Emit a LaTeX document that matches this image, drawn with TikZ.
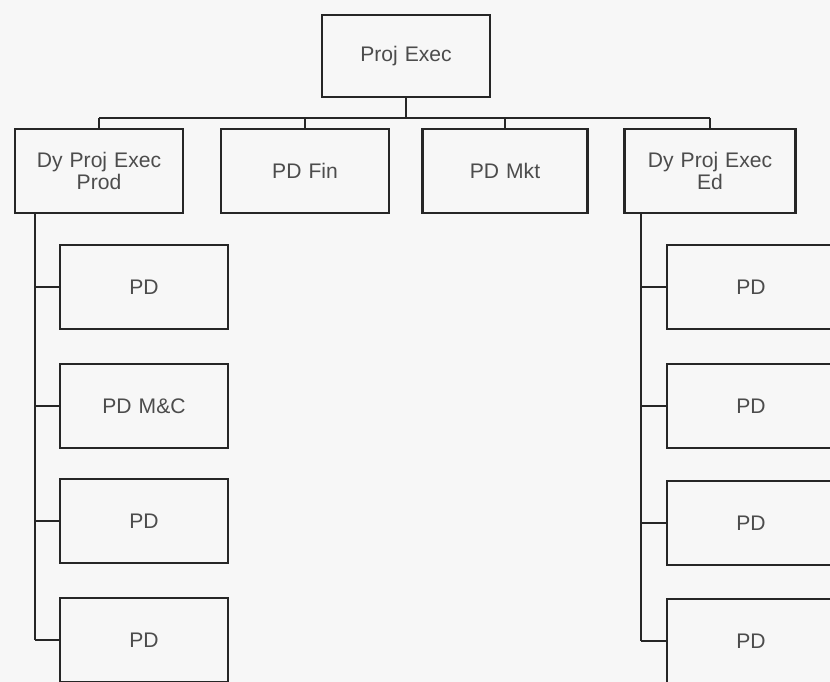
\documentclass[tikz,border=0pt]{standalone}
\usepackage{fontspec}
\setmainfont{Liberation Sans}
\usetikzlibrary{positioning,calc}

\begin{document}
\begin{tikzpicture}[x=0.025cm, y=-0.025cm,
    post/.style={rectangle, draw=black!85, line width=2pt, fill=white!97!black,
    text centered, text width=3.6cm, minimum width=4.2cm, minimum height=2.1cm,
    font=\fontsize{15}{16}\selectfont, text=black!70},
    link/.style={draw=black!85, line width=2pt}]
    \useasboundingbox[fill=white!97!black] (0,0) rectangle (830,682);

    \node (exec) [post, minimum height=2.05cm] at (406,56) {Proj Exec};

    \node (dyprod) [post] at (99,171) {Dy Proj Exec\\Prod};
    \node (pdfin) [post] at (305,171) {PD Fin};
    \node (pdmkt) [post, minimum width=4.125cm] at (505,171) {PD Mkt};
    \node (dyed) [post, minimum width=4.275cm] at (710,171) {Dy Proj Exec\\Ed};

    \node (pda) [post] at (144,287) {PD};
    \node (pdb) [post] at (144,406) {PD M\&C};
    \node (pdc) [post] at (144,521) {PD};
    \node (pdd) [post] at (144,640) {PD};

    \node (pde) [post] at (751,287) {PD};
    \node (pdf) [post] at (751,406) {PD};
    \node (pdg) [post] at (751,523) {PD};
    \node (pdh) [post] at (751,641) {PD};

    \coordinate (bus) at (0,118);
    \coordinate (spineL) at (35,0);
    \coordinate (spineR) at (641,0);

    % top level
    \draw [link] (exec.south) -- (exec.south |- bus);
    \draw [link] (dyprod.north |- bus) -- (dyed.north |- bus);
    \foreach \n in {dyprod,pdfin,pdmkt,dyed}
        \draw [link] (\n.north |- bus) -- (\n.north);

    % left column
    \draw [link] (dyprod.south -| spineL) -- (spineL |- pdd.west);
    \foreach \n in {pda,pdb,pdc,pdd}
        \draw [link] (spineL |- \n.west) -- (\n.west);

    % right column
    \draw [link] (dyed.south -| spineR) -- (spineR |- pdh.west);
    \foreach \n in {pde,pdf,pdg,pdh}
        \draw [link] (spineR |- \n.west) -- (\n.west);
\end{tikzpicture}
\end{document}
